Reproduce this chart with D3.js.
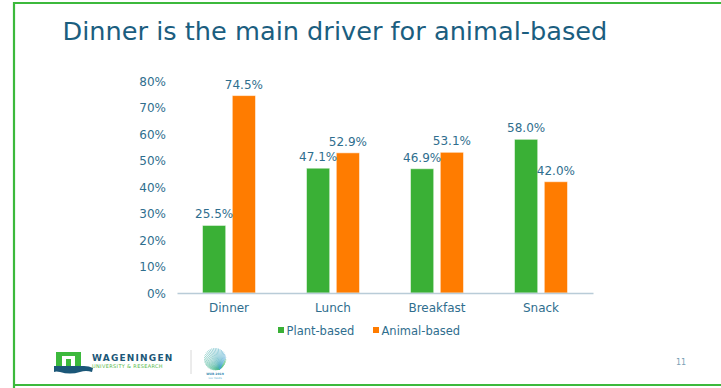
<!DOCTYPE html>
<html>
<head>
<meta charset="utf-8">
<script src="https://cdn.jsdelivr.net/npm/d3@7"></script>
<style>
  html, body { margin: 0; padding: 0; background: #ffffff; }
  svg { display: block; }
  text { font-family: "DejaVu Sans", Verdana, sans-serif; }
</style>
</head>
<body>
<svg id="slide" width="721" height="388"></svg>
<script>
// Meal occasions and the share of plant- vs animal-based choices
const categories = ["Dinner", "Lunch", "Breakfast", "Snack"];
const seriesNames = ["Plant-based", "Animal-based"];
const plantBased = [0.255, 0.471, 0.469, 0.580];
const animalBased = [0.745, 0.529, 0.531, 0.420];
const yTicks = [0, 0.1, 0.2, 0.3, 0.4, 0.5, 0.6, 0.7, 0.8];
const titleText = "Dinner is the main driver for animal-based";
const pageNumber = "11";

const seriesValues = [plantBased, animalBased];
const colors = ["#3ab036", "#ff7c00"];
const textColor = "#2f6e8e";

const svg = d3.select("#slide");

// Slide frame (green rule on top, left and bottom)
const frame = svg.append("g").attr("stroke", "#3cb93c").attr("stroke-width", 2.2).attr("fill", "none");
frame.append("path").attr("d", "M14,388 V3 H721");
frame.append("path").attr("d", "M13,385 H721");

// Title, fitted to its line width
const title = svg.append("text")
  .attr("x", 62.5).attr("y", 39.5)
  .attr("fill", "#1b5e7f")
  .style("font-size", "24px")
  .text(titleText);
const tw = title.node().getComputedTextLength();
title.style("font-size", (24 * 545 / tw) + "px");

// Scales
const x0 = d3.scaleBand().domain(categories).range([177, 593]).paddingInner(0.49).paddingOuter(0.245);
const x1 = d3.scaleBand().domain(seriesNames).range([0, x0.bandwidth()]).paddingInner(0.22);
const y = d3.scaleLinear().domain([0, 0.8]).range([293, 81]);

// Y axis labels (no line, no ticks)
const yAxis = svg.append("g").attr("transform", "translate(166,0)")
  .call(d3.axisLeft(y).tickValues(yTicks).tickFormat(d3.format(".0%")).tickSize(0).tickPadding(0));
yAxis.select(".domain").remove();
yAxis.selectAll("text")
  .attr("fill", textColor)
  .style("font-size", "12px")
  .style("font-family", "'DejaVu Sans', Verdana, sans-serif")
  .attr("dy", "0.36em");

// Bars
const groups = svg.append("g").selectAll("g")
  .data(categories)
  .join("g")
  .attr("transform", d => `translate(${x0(d)},0)`);

groups.selectAll("rect")
  .data((c, i) => seriesNames.map((s, k) => ({ s, k, v: seriesValues[k][i] })))
  .join("rect")
  .attr("x", d => x1(d.s))
  .attr("y", d => y(d.v))
  .attr("width", x1.bandwidth())
  .attr("height", d => y(0) - y(d.v))
  .attr("fill", d => colors[d.k])
  .attr("stroke", "#ffffff")
  .attr("stroke-opacity", 0.55)
  .attr("stroke-width", 1);

// Value labels
groups.selectAll("text.val")
  .data((c, i) => seriesNames.map((s, k) => ({ s, k, v: seriesValues[k][i] })))
  .join("text")
  .attr("class", "val")
  .attr("x", d => x1(d.s) + x1.bandwidth() / 2)
  .attr("y", d => y(d.v) - 7)
  .attr("text-anchor", "middle")
  .attr("fill", textColor)
  .style("font-size", "12px")
  .text(d => d3.format(".1%")(d.v));

// X axis baseline and category labels
const xAxis = svg.append("g").attr("transform", "translate(0,293)")
  .call(d3.axisBottom(x0).tickSize(0).tickPadding(0));
xAxis.select(".domain").attr("stroke", "#b9ccd8").attr("stroke-width", 1.5);
xAxis.selectAll("text")
  .attr("fill", textColor)
  .style("font-size", "12px")
  .style("font-family", "'DejaVu Sans', Verdana, sans-serif")
  .attr("dy", 0)
  .attr("y", 19);

// Legend
const legendX = [278, 373];
const legend = svg.append("g").selectAll("g")
  .data(seriesNames)
  .join("g")
  .attr("transform", (d, i) => `translate(${legendX[i]},331)`);
legend.append("rect").attr("x", 0).attr("y", -4).attr("width", 6).attr("height", 6)
  .attr("fill", (d, i) => colors[i]);
legend.append("text").attr("x", 8.5).attr("y", 4).attr("fill", textColor)
  .style("font-size", "11.5px").text(d => d);

// Footer: university logo
const logo = svg.append("g");
logo.append("rect").attr("x", 56).attr("y", 352).attr("width", 25).attr("height", 14).attr("fill", "#3cb93c");
logo.append("path").attr("d", "M62,366 V356 H75 V366 H71 V359 H66 V366 Z").attr("fill", "#ffffff");
logo.append("path").attr("d", "M54,366 H84 Q89,366 93,368 L92,372 Q86,370 80,372 Q70,375 60,372 Q56,371 54,372 Z").attr("fill", "#1b5778");
logo.append("text").attr("x", 92).attr("y", 360.5).attr("fill", "#1b5778")
  .style("font-size", "9px").style("font-weight", "bold").style("letter-spacing", "1.2px").text("WAGENINGEN");
logo.append("text").attr("x", 92).attr("y", 368).attr("fill", "#55b848")
  .style("font-size", "5px").style("letter-spacing", "0.35px").text("UNIVERSITY & RESEARCH");
logo.append("line").attr("x1", 191).attr("x2", 191).attr("y1", 350).attr("y2", 374)
  .attr("stroke", "#d8d8d8").attr("stroke-width", 1);

// Footer: fan emblem, thin rays from a point to a circle
const fan = svg.append("g");
const cx = 215, cy = 359, r = 11;
const rays = d3.range(0, 40);
fan.selectAll("line").data(rays).join("line")
  .attr("x1", 220).attr("y1", 369)
  .attr("x2", d => cx + r * Math.cos(d / 40 * 2 * Math.PI))
  .attr("y2", d => cy + r * Math.sin(d / 40 * 2 * Math.PI))
  .attr("stroke", (d, i) => d3.interpolateRgb("#4cc26a", "#4aa6d4")(i / 39))
  .attr("stroke-width", 0.55);
fan.append("text").attr("x", 215).attr("y", 375).attr("text-anchor", "middle")
  .attr("fill", "#2f86b0").style("font-size", "3px").style("font-weight", "bold").text("WUR 2019");
fan.append("text").attr("x", 215).attr("y", 378.5).attr("text-anchor", "middle")
  .attr("fill", "#5aaed0").style("font-size", "2.5px").text("100 YEARS");

// Page number
svg.append("text").attr("x", 681).attr("y", 365).attr("text-anchor", "middle")
  .attr("fill", "#7a9fb5").style("font-size", "8px").text(pageNumber);
</script>
</body>
</html>
